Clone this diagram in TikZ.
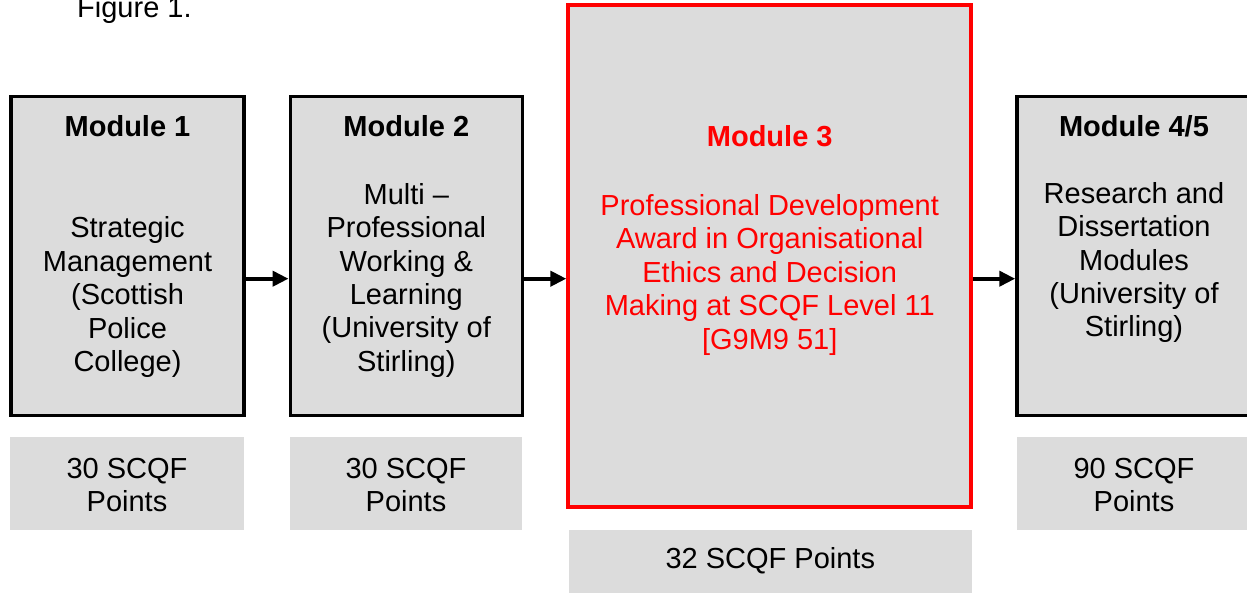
\documentclass[tikz,border=0pt]{standalone}
\usepackage{fontspec}
\setmainfont{Liberation Sans}
\usetikzlibrary{arrows.meta}
\definecolor{boxgray}{RGB}{220,220,220}
\definecolor{pured}{RGB}{255,0,0}
\tikzset{
  modbox/.style={draw=black, fill=boxgray, line width=3.5pt, minimum width=#1, inner sep=0pt},
  redbox/.style={draw=pured, fill=boxgray, line width=4pt, inner sep=0pt},
  ptbox/.style={fill=boxgray, draw=none, inner sep=0pt},
  txt/.style={anchor=base, inner sep=0pt, font=\fontsize{29}{33.3}\selectfont},
  btxt/.style={txt, font=\fontsize{29}{33.3}\selectfont\bfseries},
  arr/.style={line width=4pt, -{Triangle[length=16pt,width=15pt]}}
}
\begin{document}
\begin{tikzpicture}[x=1pt,y=-1pt]
\useasboundingbox (0,0) rectangle (1247,593);
% title
\node[txt, anchor=base west] (fig) at (77,18) {Figure 1.};
% module boxes
\node[modbox=233pt, minimum height=319pt] (b1) at (127.5,256) {};
\node[modbox=232pt, minimum height=319pt] (b2) at (406.3,256) {};
\node[redbox, minimum width=402.7pt, minimum height=501.7pt] (b3) at (769.7,256.2) {};
\node[modbox=236pt, minimum height=319pt] (b4) at (1135,256) {};
% points boxes
\node[ptbox, minimum width=234pt, minimum height=93pt] (p1) at (127,483.5) {};
\node[ptbox, minimum width=232pt, minimum height=93pt] (p2) at (406,483.5) {};
\node[ptbox, minimum width=403pt, minimum height=62.5pt] (p3) at (770.3,561.3) {};
\node[ptbox, minimum width=240pt, minimum height=93pt] (p4) at (1137,483.5) {};
% arrows
\coordinate (ay) at (0,278.7);
\draw[arr] (b1.east |- ay) -- (b2.west |- ay);
\draw[arr] (b2.east |- ay) -- (b3.west |- ay);
\draw[arr] (b3.east |- ay) -- (b4.west |- ay);
% box 1 text
\node[btxt] (t1h) at (127.5,136.5) {Module 1};
\node[txt] (t1a) at (127.5,238) {Strategic};
\node[txt] (t1b) at (127.5,271.3) {Management};
\node[txt] (t1c) at (127.5,304.7) {(Scottish};
\node[txt] (t1d) at (127.5,338) {Police};
\node[txt] (t1e) at (127.5,371.3) {College)};
% box 2 text
\node[btxt] (t2h) at (406.3,136.5) {Module 2};
\node[txt] (t2a) at (406.3,204.5) {Multi –};
\node[txt] (t2b) at (406.3,237.8) {Professional};
\node[txt] (t2c) at (406.3,271.1) {Working \&};
\node[txt] (t2d) at (406.3,304.4) {Learning};
\node[txt] (t2e) at (406.3,337.7) {(University of};
\node[txt] (t2f) at (406.3,371) {Stirling)};
% box 3 text
\begin{scope}[every node/.append style={text=pured}]
\node[btxt] (t3h) at (769.7,146.3) {Module 3};
\node[txt] (t3a) at (769.7,215.3) {Professional Development};
\node[txt] (t3b) at (769.7,248.8) {Award in Organisational};
\node[txt] (t3c) at (769.7,282.3) {Ethics and Decision};
\node[txt] (t3d) at (769.7,315.8) {Making at SCQF Level 11};
\node[txt] (t3e) at (769.7,349.2) {[G9M9 51]};
\end{scope}
% box 4 text
\node[btxt] (t4h) at (1134,136.5) {Module 4/5};
\node[txt] (t4a) at (1134,203.7) {Research and};
\node[txt] (t4b) at (1134,237) {Dissertation};
\node[txt] (t4c) at (1134,270.3) {Modules};
\node[txt] (t4d) at (1134,303.6) {(University of};
\node[txt] (t4e) at (1134,337) {Stirling)};
% points text
\node[txt] (q1a) at (127,478.5) {30 SCQF};
\node[txt] (q1b) at (127,511.8) {Points};
\node[txt] (q2a) at (406,478.5) {30 SCQF};
\node[txt] (q2b) at (406,511.8) {Points};
\node[txt] (q3) at (770.3,568.3) {32 SCQF Points};
\node[txt] (q4a) at (1134,478.5) {90 SCQF};
\node[txt] (q4b) at (1134,511.8) {Points};
\end{tikzpicture}
\end{document}
